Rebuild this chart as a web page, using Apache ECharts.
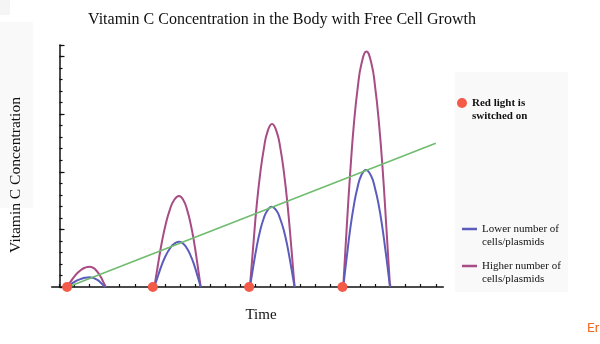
<!DOCTYPE html>
<html>
<head>
<meta charset="utf-8">
<script src="https://cdn.jsdelivr.net/npm/echarts@6/dist/echarts.min.js"></script>
<style>
  html, body { margin: 0; padding: 0; background: #fff; }
  #chart { width: 600px; height: 344px; }
</style>
</head>
<body>
<div id="chart"></div>
<script>
// Times at which the red light is switched on
const lightOnTimes = [0.5, 6.2, 12.6, 18.8];

// Vitamin C pulses with a higher number of cells/plasmids: [time, concentration]
const higherPulse1 = [[0.5, 0], [0.725, 0.44], [0.965, 0.88], [1.205, 1.23], [1.445, 1.5], [1.685, 1.67], [2.0, 1.76],
  [2.225, 1.67], [2.396, 1.5], [2.567, 1.23], [2.738, 0.88], [2.91, 0.44], [3.07, 0]];
const higherPulse2 = [[6.3, 0], [6.546, 1.975], [6.808, 3.95], [7.071, 5.53], [7.333, 6.715], [7.596, 7.505], [7.94, 7.9],
  [8.242, 7.505], [8.473, 6.715], [8.703, 5.53], [8.934, 3.95], [9.164, 1.975], [9.38, 0]];
const higherPulse3 = [[12.65, 0], [12.87, 3.54], [13.1, 7.075], [13.34, 9.905], [13.58, 12.03], [13.81, 13.44], [14.12, 14.15],
  [14.435, 13.44], [14.675, 12.03], [14.915, 9.905], [15.155, 7.075], [15.395, 3.54], [15.62, 0]];
const higherPulse4 = [[18.85, 0], [19.08, 5.11], [19.33, 10.22], [19.57, 14.3], [19.82, 17.37], [20.07, 19.41], [20.39, 20.43],
  [20.72, 19.41], [20.97, 17.37], [21.22, 14.3], [21.47, 10.22], [21.72, 5.11], [21.96, 0]];

// Vitamin C pulses with a lower number of cells/plasmids
const lowerPulse1 = [[0.5, 0], [0.725, 0.21], [0.965, 0.42], [1.205, 0.59], [1.445, 0.71], [1.685, 0.8], [2.0, 0.84],
  [2.214, 0.8], [2.377, 0.71], [2.541, 0.59], [2.704, 0.42], [2.867, 0.21], [3.02, 0]];
const lowerPulse2 = [[6.3, 0], [6.546, 0.98], [6.808, 1.965], [7.071, 2.75], [7.333, 3.34], [7.596, 3.73], [7.94, 3.93],
  [8.242, 3.73], [8.473, 3.34], [8.703, 2.75], [8.934, 1.965], [9.164, 0.98], [9.38, 0]];
const lowerPulse3 = [[12.65, 0], [12.87, 1.74], [13.1, 3.485], [13.33, 4.88], [13.56, 5.92], [13.8, 6.62], [14.1, 6.97],
  [14.42, 6.62], [14.66, 5.92], [14.91, 4.88], [15.15, 3.485], [15.39, 1.74], [15.62, 0]];
const lowerPulse4 = [[18.85, 0], [19.08, 2.54], [19.32, 5.08], [19.56, 7.11], [19.8, 8.64], [20.04, 9.65], [20.36, 10.16],
  [20.7, 9.65], [20.95, 8.64], [21.21, 7.11], [21.46, 5.08], [21.72, 2.54], [21.96, 0]];

// Free cell growth trend
const growthLine = [[0.55, 0], [25, 12.47]];

// Axis tick positions
const xTickValues = [0, 1, 2, 3, 4, 5, 6, 7, 8, 9, 10, 11, 12, 13, 14, 15, 16, 17, 18, 19, 20, 21, 22, 23, 24, 25];

const LIGHT_NAME = 'Red light is switched on';
const LOWER_NAME = 'Lower number of cells/plasmids';
const HIGHER_NAME = 'Higher number of cells/plasmids';

const SERIF = '"Liberation Serif", "DejaVu Serif", serif';
const PURPLE = '#a74c84';
const BLUE = '#5b5cbb';
const GREEN = '#6fbc6f';
const RED = '#f45a48';

// join pulses into one series, separated by gaps
function joinPulses(pulses) {
  const out = [];
  pulses.forEach((p, i) => {
    if (i > 0) out.push([null, null]);
    p.forEach(pt => out.push(pt));
  });
  return out;
}

const chart = echarts.init(document.getElementById('chart'), null, { renderer: 'canvas' });

// an empty first line keeps the legend icon level with the first text line
const legendText = {
  fontFamily: SERIF,
  fontSize: 11,
  color: '#111',
  lineHeight: 13
};

chart.setOption({
  animation: false,
  backgroundColor: '#ffffff',
  title: [
    {
      text: 'Vitamin C Concentration in the Body with Free Cell Growth',
      left: 277, top: 7, textAlign: 'center',
      textStyle: { fontFamily: SERIF, fontWeight: 'normal', fontSize: 16, color: '#111' }
    },
    {
      text: 'Time',
      left: 256, top: 303, textAlign: 'center',
      textStyle: { fontFamily: SERIF, fontWeight: 'normal', fontSize: 15, color: '#111' }
    },
    {
      text: 'Er',
      left: 582, top: 317,
      textStyle: { fontFamily: 'Roboto, "Open Sans", sans-serif', fontWeight: 'normal', fontSize: 13.5, color: '#f26a22' }
    }
  ],
  graphic: [
    { type: 'rect', silent: true, z: -10, shape: { x: 0, y: 22, width: 33, height: 186 }, style: { fill: '#f9f9f9' } },
    { type: 'rect', silent: true, z: -10, shape: { x: 0, y: 0, width: 10, height: 15 }, style: { fill: '#f5f5f5' } },
    { type: 'rect', silent: true, z: -10, shape: { x: 455, y: 72, width: 113, height: 220 }, style: { fill: '#f9f9f9' } },
    {
      type: 'text', silent: true,
      x: 16, y: 175, rotation: Math.PI / 2,
      style: {
        text: 'Vitamin C Concentration',
        font: '15.5px ' + SERIF,
        fill: '#111', align: 'center', verticalAlign: 'middle'
      }
    }
  ],
  legend: [
    {
      data: [LIGHT_NAME], left: 457, top: 83.5, orient: 'vertical', padding: 0,
      icon: 'circle', itemWidth: 10, itemHeight: 10,
      formatter: () => '\nRed light is\nswitched on',
      textStyle: Object.assign({}, legendText, { fontWeight: 'bold' }),
      selectedMode: false
    },
    {
      data: [LOWER_NAME], left: 462, top: 209.5, orient: 'vertical', padding: 0,
      icon: 'rect', itemWidth: 15, itemHeight: 2.5,
      formatter: () => '\nLower number of\ncells/plasmids',
      textStyle: legendText, selectedMode: false
    },
    {
      data: [HIGHER_NAME], left: 462, top: 246.5, orient: 'vertical', padding: 0,
      icon: 'rect', itemWidth: 15, itemHeight: 2.5,
      formatter: () => '\nHigher number of\ncells/plasmids',
      textStyle: legendText, selectedMode: false
    }
  ],
  grid: { left: 51.7, right: 600 - 443.3, top: 45, bottom: 344 - 287, containLabel: false },
  xAxis: {
    type: 'value', min: -0.52, max: 25.5,
    axisLine: { show: true, onZero: false, lineStyle: { color: '#111', width: 1.5 } },
    axisTick: { show: true, inside: true, length: 3, customValues: xTickValues, lineStyle: { color: '#111', width: 1.2 } },
    axisLabel: { show: false },
    splitLine: { show: false }
  },
  yAxis: [
    {
      type: 'value', min: 0, max: 21, interval: 1,
      axisLine: { show: true, onZero: true, lineStyle: { color: '#111', width: 1.5 } },
      axisTick: { show: true, inside: true, length: 3, lineStyle: { color: '#111', width: 1.2 } },
      axisLabel: { show: false },
      splitLine: { show: false }
    },
    {
      // longer ticks every five units, sitting on the same vertical line
      type: 'value', min: 0, max: 21, interval: 5, position: 'left', offset: -7.8,
      axisLine: { show: false, onZero: false },
      axisTick: { show: true, inside: true, length: 5, lineStyle: { color: '#111', width: 1.2 } },
      axisLabel: { show: false },
      splitLine: { show: false }
    }
  ],
  series: [
    {
      name: HIGHER_NAME, type: 'line', smooth: 0.5, showSymbol: false, connectNulls: false,
      data: joinPulses([higherPulse1, higherPulse2, higherPulse3, higherPulse4]),
      lineStyle: { color: PURPLE, width: 2 }, itemStyle: { color: PURPLE }, z: 3
    },
    {
      name: LOWER_NAME, type: 'line', smooth: 0.5, showSymbol: false, connectNulls: false,
      data: joinPulses([lowerPulse1, lowerPulse2, lowerPulse3, lowerPulse4]),
      lineStyle: { color: BLUE, width: 2 }, itemStyle: { color: BLUE }, z: 3
    },
    {
      name: 'growth', type: 'line', showSymbol: false,
      data: growthLine,
      lineStyle: { color: GREEN, width: 1.6 }, z: 4
    },
    {
      name: LIGHT_NAME, type: 'scatter', symbol: 'circle', symbolSize: 10,
      data: lightOnTimes.map(t => [t, 0]),
      itemStyle: { color: RED, opacity: 1 }, z: 6
    }
  ]
});
</script>
</body>
</html>
